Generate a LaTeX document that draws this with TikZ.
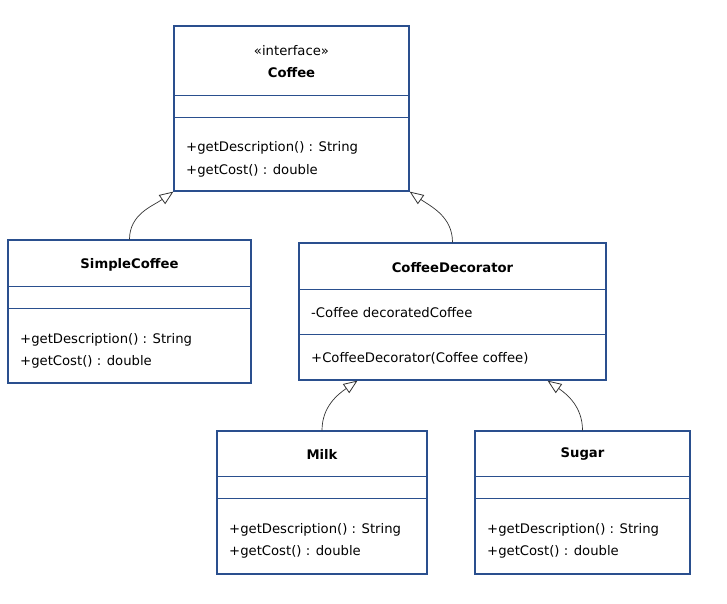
\documentclass[tikz,border=0pt]{standalone}
\usepackage{fontspec}
\setmainfont{DejaVu Sans}
\usetikzlibrary{arrows.meta,calc}
\definecolor{boxblue}{HTML}{2A4F8E}
\definecolor{linegray}{HTML}{333333}
\tikzset{
  classbox/.style={draw=boxblue, line width=1.2pt, fill=white, rectangle, inner sep=0pt},
  divider/.style={draw=boxblue, line width=1pt},
  txt/.style={inner sep=0pt, yshift=-1.5pt, font=\fontsize{13.2}{15}\selectfont, text=black},
  ttl/.style={inner sep=0pt, yshift=-1.5pt, font=\fontsize{13.2}{15}\selectfont\bfseries, text=black},
  inh/.style={draw=linegray, line width=0.7pt, -{Triangle[open, length=14pt, width=11pt, line width=0.8pt]}},
}
\begin{document}
\begin{tikzpicture}[x=1pt,y=-1pt]
\useasboundingbox (0,0) rectangle (727,603);
% Coffee
\node[classbox, minimum width=235pt, minimum height=165pt] (coffee) at (291.5,108.5) {};
\draw[divider] (174,95) -- (409,95);
\draw[divider] (174,117) -- (409,117);
\node[txt] (coffeest) at (291.5,49) {«interface»};
\node[ttl] (coffeet) at (291.5,71) {Coffee};
\node[txt, anchor=west] (coffeem1) at (186,146) {+getDescription() : String};
\node[txt, anchor=west] (coffeem2) at (186,169) {+getCost() : double};
% SimpleCoffee
\node[classbox, minimum width=243pt, minimum height=143pt] (sc) at (129.5,311.5) {};
\draw[divider] (8,286) -- (251,286);
\draw[divider] (8,308) -- (251,308);
\node[ttl] (sct) at (129.5,263) {SimpleCoffee};
\node[txt, anchor=west] (scm1) at (20,338) {+getDescription() : String};
\node[txt, anchor=west] (scm2) at (20,360) {+getCost() : double};
% CoffeeDecorator
\node[classbox, minimum width=307pt, minimum height=137pt] (cd) at (452.5,311.5) {};
\draw[divider] (299,289) -- (606,289);
\draw[divider] (299,334) -- (606,334);
\node[ttl] (cdt) at (452.5,266) {CoffeeDecorator};
\node[txt, anchor=west] (cda) at (311,311) {-Coffee decoratedCoffee};
\node[txt, anchor=west] (cdc) at (311,357) {+CoffeeDecorator(Coffee coffee)};
% Milk
\node[classbox, minimum width=210pt, minimum height=143pt] (milk) at (322,502.5) {};
\draw[divider] (217,476) -- (427,476);
\draw[divider] (217,498) -- (427,498);
\node[ttl] (milkt) at (322,453) {Milk};
\node[txt, anchor=west] (milkm1) at (229,528) {+getDescription() : String};
\node[txt, anchor=west] (milkm2) at (229,550) {+getCost() : double};
% Sugar
\node[classbox, minimum width=215pt, minimum height=143pt] (sugar) at (582.5,502.5) {};
\draw[divider] (475,476) -- (690,476);
\draw[divider] (475,498) -- (690,498);
\node[ttl] (sugart) at (582.5,453) {Sugar};
\node[txt, anchor=west] (sugarm1) at (487,528) {+getDescription() : String};
\node[txt, anchor=west] (sugarm2) at (487,550) {+getCost() : double};
% inheritance
\coordinate (cdl) at ($(cd.south)+(-95,0)$);
\coordinate (cdr) at ($(cd.south)+(95,0)$);
\draw[inh] (sc.north) to[out=90, in=215] (coffee.south west);
\draw[inh] (cd.north) to[out=90, in=-35] (coffee.south east);
\draw[inh] (milk.north) to[out=90, in=215] (cdl);
\draw[inh] (sugar.north) to[out=90, in=-35] (cdr);
\end{tikzpicture}
\end{document}
